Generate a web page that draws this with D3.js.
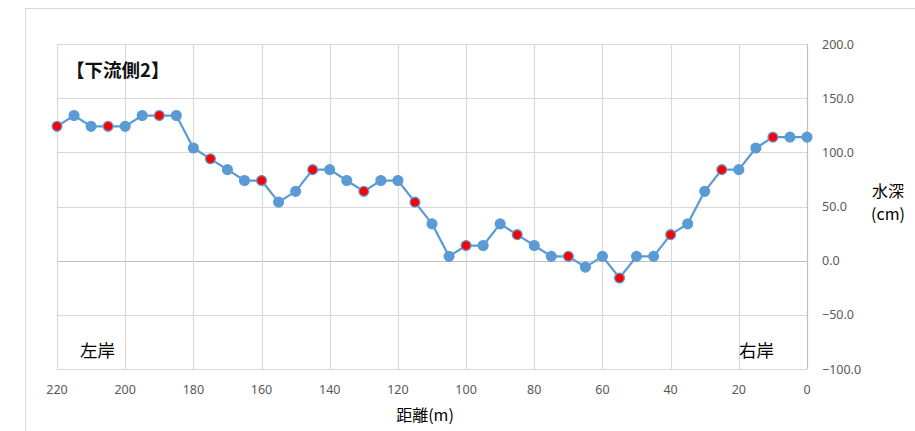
<!DOCTYPE html>
<html><head><meta charset="utf-8">
<script src="https://cdn.jsdelivr.net/npm/d3@7"></script>
<style>body{margin:0;background:#fff;}svg{display:block;}</style>
</head><body>
<svg id="c" width="915" height="431"></svg>
<script>
const distances = [220,215,210,205,200,195,190,185,180,175,170,165,160,155,150,145,140,135,130,125,120,115,110,105,100,95,90,85,80,75,70,65,60,55,50,45,40,35,30,25,20,15,10,5,0];
const depths = [124,134,124,124,124,134,134,134,104,94,84,74,74,54,64,84,84,74,64,74,74,54,34,4,14,14,34,24,14,4,4,-6,4,-16,4,4,24,34,64,84,84,104,114,114,114];
const highlighted = [220,205,190,175,160,145,130,115,100,85,70,55,40,25,10];
const xTicks = [220,200,180,160,140,120,100,80,60,40,20,0];
const yTicks = [-100,-50,0,50,100,150,200];
const title = "【下流側2】";
const leftBank = "左岸", rightBank = "右岸";
const xTitle = "距離(m)";
const yTitle = ["水深","(cm)"];

const svg = d3.select("#c");
const L = 57, R = 807, T = 44, B = 369;
const x = d3.scaleLinear().domain([220,0]).range([L,R]);
const y = d3.scaleLinear().domain([-100,200]).range([B,T]);
const numFont = "'Noto Sans', sans-serif";
const jpFont = "'Noto Sans CJK JP', sans-serif";

// outer frame
svg.append("rect").attr("x",25.5).attr("y",8.5).attr("width",1000).attr("height",1000)
  .attr("fill","#fff").attr("stroke","#d9d9d9").attr("stroke-width",1);

// grid
const g = svg.append("g");
g.selectAll("line.h").data(yTicks).join("line")
  .attr("x1",L).attr("x2",R).attr("y1",d=>Math.round(y(d))+0.5).attr("y2",d=>Math.round(y(d))+0.5)
  .attr("stroke",d=>d===0?"#bfbfbf":"#d9d9d9").attr("stroke-width",1.2);
g.selectAll("line.v").data(xTicks).join("line")
  .attr("y1",T).attr("y2",B).attr("x1",d=>Math.round(x(d))+0.5).attr("x2",d=>Math.round(x(d))+0.5)
  .attr("stroke",d=>d===0?"#bfbfbf":"#d9d9d9").attr("stroke-width",1.2);

// axis labels
svg.append("g").selectAll("text").data(xTicks).join("text")
  .attr("x",d=>x(d)).attr("y",394).attr("text-anchor","middle")
  .attr("font-family",numFont).attr("font-size",12.5).attr("fill","#595959")
  .text(d=>d);
svg.append("g").selectAll("text").data(yTicks).join("text")
  .attr("x",822).attr("y",d=>y(d)+4.5).attr("text-anchor","start")
  .attr("font-family",numFont).attr("font-size",12.5).attr("fill","#595959")
  .text(d=>d3.format(".1f")(d));

// line
const line = d3.line().x((d,i)=>x(distances[i])).y(d=>y(d));
svg.append("path").datum(depths).attr("d",line).attr("fill","none")
  .attr("stroke","#5b9bd5").attr("stroke-width",2.25).attr("stroke-linejoin","round");
svg.append("g").selectAll("circle").data(depths).join("circle")
  .attr("cx",(d,i)=>x(distances[i])).attr("cy",d=>y(d)).attr("r",4.9)
  .attr("fill",(d,i)=>highlighted.includes(distances[i])?"#ff0000":"#5b9bd5")
  .attr("stroke","#5b9bd5").attr("stroke-width",1.3);

// texts
svg.append("text").attr("x",66).attr("y",77).attr("font-family",jpFont).attr("font-size",18.5)
  .attr("font-weight","bold").attr("fill","#111").text(title);
svg.append("text").attr("x",80).attr("y",357).attr("font-family",jpFont).attr("font-size",17.5)
  .attr("fill","#000").text(leftBank);
svg.append("text").attr("x",739).attr("y",357).attr("font-family",jpFont).attr("font-size",17.5)
  .attr("fill","#000").text(rightBank);
svg.append("text").attr("x",425).attr("y",421).attr("text-anchor","middle").attr("font-family",jpFont)
  .attr("font-size",16).attr("fill","#000").text(xTitle);
svg.append("g").selectAll("text").data(yTitle).join("text")
  .attr("x",888).attr("y",(d,i)=>197+i*23).attr("text-anchor","middle").attr("font-family",jpFont)
  .attr("font-size",16).attr("fill","#000").text(d=>d);
</script>
</body></html>
